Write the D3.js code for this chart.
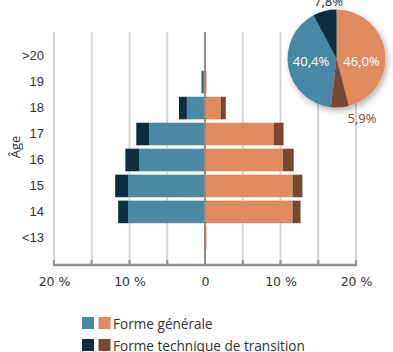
<!DOCTYPE html>
<html><head><meta charset="utf-8">
<script src="https://cdn.jsdelivr.net/npm/d3@7"></script>
<style>
html,body{margin:0;padding:0;background:#fff;}
svg{display:block;font-family:"Open Sans","Noto Sans",sans-serif;}
</style></head>
<body>
<svg id="c" width="393" height="352"></svg>
<script>
const ages = [">20","19","18","17","16","15","14","<13"];
const generalLeft = [0, 0.3, 2.4, 7.4, 8.7, 10.2, 10.2, 0];
const technicalLeft = [0, 0.15, 1.05, 1.7, 1.85, 1.7, 1.3, 0];
const generalRight = [0, 0.2, 2.1, 9.1, 10.3, 11.6, 11.6, 0.2];
const technicalRight = [0, 0, 0.65, 1.3, 1.45, 1.3, 1.05, 0];
const xTicks = [-20, -10, 0, 10, 20];
const xTickLabels = ["20 %", "10 %", "0", "10 %", "20 %"];
const gridValues = [-20,-15,-10,-5,0,5,10,15,20];
const pieLabels = ["Forme générale (F)", "Forme technique (F)", "Forme générale (M)", "Forme technique (M)"];
const pieValues = [46.0, 5.9, 40.4, 7.8];
const pieText = ["46,0%", "5,9%", "40,4%", "7,8%"];
const legendLabels = ["Forme générale", "Forme technique de transition"];

const C = {blue:"#4a88a4", orange:"#e08a5f", dark:"#0d2e3f", brown:"#7a4731"};

const svg = d3.select("#c");
const x = d3.scaleLinear().domain([-20, 20]).range([54, 356]);
const y = d3.scaleBand().domain(ages).range([43, 251]).paddingInner(0.13).paddingOuter(0.07);
const axisY = 265, gridTop = 32;

// gridlines
svg.append("g").selectAll("line").data(gridValues.filter(d=>d!==0)).join("line")
  .attr("x1", d=>x(d)).attr("x2", d=>x(d)).attr("y1", gridTop).attr("y2", axisY)
  .attr("stroke", "#d6d6d6").attr("stroke-width", 2);

// bars
const bars = svg.append("g");
ages.forEach((a, i) => {
  const yy = y(a), h = y.bandwidth();
  const gl = generalLeft[i], tl = technicalLeft[i], gr = generalRight[i], tr = technicalRight[i];
  if (gl > 0) bars.append("rect").attr("x", x(-gl)).attr("y", yy).attr("width", x(0)-x(-gl)).attr("height", h).attr("fill", C.blue);
  if (tl > 0) bars.append("rect").attr("x", x(-gl-tl)).attr("y", yy).attr("width", x(-gl)-x(-gl-tl)).attr("height", h).attr("fill", C.dark);
  if (gr > 0) bars.append("rect").attr("x", x(0)).attr("y", yy).attr("width", x(gr)-x(0)).attr("height", h).attr("fill", C.orange);
  if (tr > 0) bars.append("rect").attr("x", x(gr)).attr("y", yy).attr("width", x(gr+tr)-x(gr)).attr("height", h).attr("fill", C.brown);
});

// center line
svg.append("line").attr("x1", x(0)).attr("x2", x(0)).attr("y1", gridTop).attr("y2", axisY)
  .attr("stroke", "#8e8e8e").attr("stroke-width", 2);

// bottom axis
svg.append("line").attr("x1", x(-20)-1).attr("x2", x(20)+1).attr("y1", axisY).attr("y2", axisY)
  .attr("stroke", "#8e8e8e").attr("stroke-width", 2.5);
svg.append("g").selectAll("line").data(gridValues).join("line")
  .attr("x1", d=>x(d)).attr("x2", d=>x(d)).attr("y1", axisY-5).attr("y2", axisY)
  .attr("stroke", "#8e8e8e").attr("stroke-width", 2);

const xAxis = d3.axisBottom(x).tickValues(xTicks).tickSize(0).tickPadding(0)
  .tickFormat((d,i)=>xTickLabels[i]);
const gx = svg.append("g").attr("transform", `translate(0,${axisY+12})`).call(xAxis);
gx.select(".domain").remove();
gx.selectAll("text").attr("fill", "#333").attr("font-family", "\"DejaVu Sans\",sans-serif").style("font-size","12.5px");

// y axis labels
const yAxis = d3.axisLeft(y).tickSize(0).tickPadding(0);
const gy = svg.append("g").attr("transform", `translate(44,0)`).call(yAxis);
gy.select(".domain").remove();
gy.selectAll("text").attr("fill", "#333").style("font-size","13px").attr("font-family", "inherit");

svg.append("text").attr("transform", "translate(15,147) rotate(-90)").attr("text-anchor","middle")
  .attr("dominant-baseline","central").style("font-size","13px").attr("fill","#333").text("Âge");

// pie
const defs = svg.append("defs");
const f = defs.append("filter").attr("id","sh").attr("x","-30%").attr("y","-30%").attr("width","160%").attr("height","160%");
f.append("feDropShadow").attr("dx",2).attr("dy",3).attr("stdDeviation",3).attr("flood-color","#000").attr("flood-opacity",0.3);

const pcx = 336.5, pcy = 58.5, R = 49;
const pie = d3.pie().sort(null).value(d=>d);
const arcs = pie(pieValues);
const arc = d3.arc().innerRadius(0).outerRadius(R);
const pieColors = [C.orange, C.brown, C.blue, C.dark];
const pg = svg.append("g").attr("transform", `translate(${pcx},${pcy})`);
pg.append("g").attr("filter","url(#sh)").selectAll("path").data(arcs).join("path")
  .attr("d", arc).attr("fill", (d,i)=>pieColors[i]);

const labelPos = [[25, 2.5, "#fff"], [25.5, 59.5, C.brown], [-25.5, 2.5, "#fff"], [-8, -58, C.dark]];
pg.selectAll("text").data(arcs).join("text")
  .attr("x", (d,i)=>labelPos[i][0]).attr("y", (d,i)=>labelPos[i][1])
  .attr("text-anchor","middle").attr("dominant-baseline","central")
  .style("font-size","13px").attr("fill", (d,i)=>labelPos[i][2])
  .text((d,i)=>pieText[i]);

// legend
const lg = svg.append("g");
const rows = [[C.blue, C.orange], [C.dark, C.brown]];
legendLabels.forEach((l, i) => {
  const cy = 323 + i*22;
  lg.append("rect").attr("x", 82).attr("y", cy-6).attr("width", 12).attr("height", 12).attr("fill", rows[i][0]);
  lg.append("rect").attr("x", 98.5).attr("y", cy-6).attr("width", 12).attr("height", 12).attr("fill", rows[i][1]);
  lg.append("text").attr("x", 113).attr("y", cy).attr("dominant-baseline","central")
    .style("font-size","13.6px").attr("fill","#333").text(l);
});
</script>
</body></html>
